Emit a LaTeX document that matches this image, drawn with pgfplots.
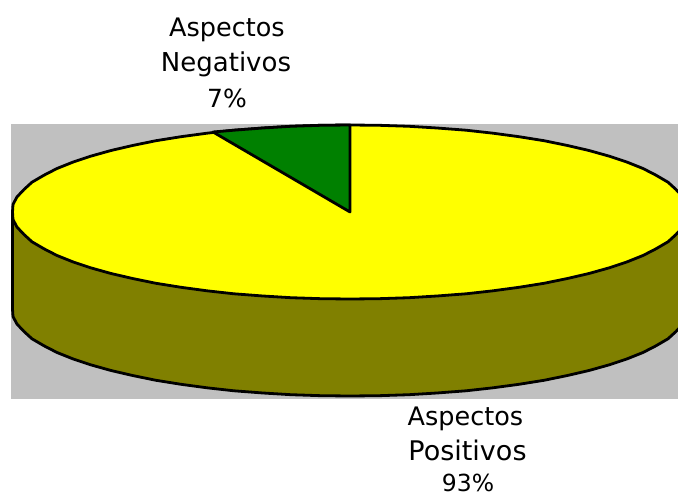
\documentclass[border=0pt]{standalone}
\usepackage{pgfplots}
\pgfplotsset{compat=1.18}
\usepackage{fontspec}
\setmainfont{DejaVu Sans}
\definecolor{cgray}{HTML}{C0C0C0}
\definecolor{cyel}{HTML}{FFFF00}
\definecolor{coli}{HTML}{808000}
\definecolor{cgrn}{HTML}{008000}
\begin{document}
\begin{tikzpicture}
\useasboundingbox (0,0) rectangle (678pt,497pt);
\begin{axis}[at={(0,0)},anchor=south west,width=678pt,height=497pt,scale only axis,
  xmin=0,xmax=678,ymin=0,ymax=497,y dir=reverse,hide axis,clip=true]
% background
\addplot[fill=cgray,draw=none] coordinates {(11,124)(678,124)(678,399)(11,399)} -- cycle;
% side wall
\addplot[fill=coli,draw=black,line width=2.8pt,line join=round] coordinates {
(12.5,212)(12.5,309)(13,316.6)(17,324.1)(24,331.5)(32,338.8)(44,345.8)(57,352.5)(73,358.9)(91,364.9)(111,370.5)(133,375.6)(156,380.3)(181,384.3)(207,387.8)(234,390.8)(263,393)(291,394.7)(321,395.7)(350,396)
(379,395.7)(409,394.7)(437,393)(466,390.8)(493,387.8)(519,384.3)(544,380.3)(567,375.6)(589,370.5)(609,364.9)(627,358.9)(643,352.5)(656,345.8)(668,338.8)(676,331.5)(683,324.1)(687,316.6)(688,309)(688,212)
} -- cycle;
% top ellipse
\addplot[fill=cyel,draw=black,line width=2.8pt,line join=round] coordinates {
(688,212)(687,219.6)(683,227.1)(676,234.5)(668,241.8)(656,248.8)(643,255.5)(627,261.9)(609,267.9)(589,273.5)(567,278.6)(544,283.3)(519,287.3)(493,290.8)(466,293.8)(437,296)(409,297.7)(379,298.7)(350,299)
(321,298.7)(291,297.7)(263,296)(234,293.8)(207,290.8)(181,287.3)(156,283.3)(133,278.6)(111,273.5)(91,267.9)(73,261.9)(57,255.5)(44,248.8)(32,241.8)(24,234.5)(17,227.1)(13,219.6)(12.5,212)
(13,204.4)(17,196.9)(24,189.5)(32,182.2)(44,175.2)(57,168.5)(73,162.1)(91,156.1)(111,150.5)(133,145.4)(156,140.7)(181,136.7)(207,133.2)(234,130.2)(263,128)(291,126.3)(321,125.3)(350,125)
(379,125.3)(409,126.3)(437,128)(466,130.2)(493,133.2)(519,136.7)(544,140.7)(567,145.4)(589,150.5)(609,156.1)(627,162.1)(643,168.5)(656,175.2)(668,182.2)(676,189.5)(683,196.9)(687,204.4)
} -- cycle;
% green slice
\addplot[fill=cgrn,draw=black,line width=2.8pt,line join=round] coordinates {
(350,212)(350,125)(321,125.3)(291,126.3)(263,128)(234,130.2)(213,132)
} -- cycle;
\node[anchor=base,font=\fontsize{25.5}{25}\selectfont,inner sep=0pt] at (axis cs:227,37) {Aspectos};
\node[anchor=base,font=\fontsize{26}{25}\selectfont,inner sep=0pt] at (axis cs:226,72) {Negativos};
\node[anchor=base,font=\fontsize{25}{25}\selectfont,inner sep=0pt] at (axis cs:227,108) {7\%};
\node[anchor=base,font=\fontsize{25.5}{25}\selectfont,inner sep=0pt] at (axis cs:465.5,425) {Aspectos};
\node[anchor=base,font=\fontsize{27}{25}\selectfont,inner sep=0pt] at (axis cs:467.5,460) {Positivos};
\node[anchor=base,font=\fontsize{23.5}{25}\selectfont,inner sep=0pt] at (axis cs:468,491.5) {93\%};
\end{axis}
\end{tikzpicture}
\end{document}
